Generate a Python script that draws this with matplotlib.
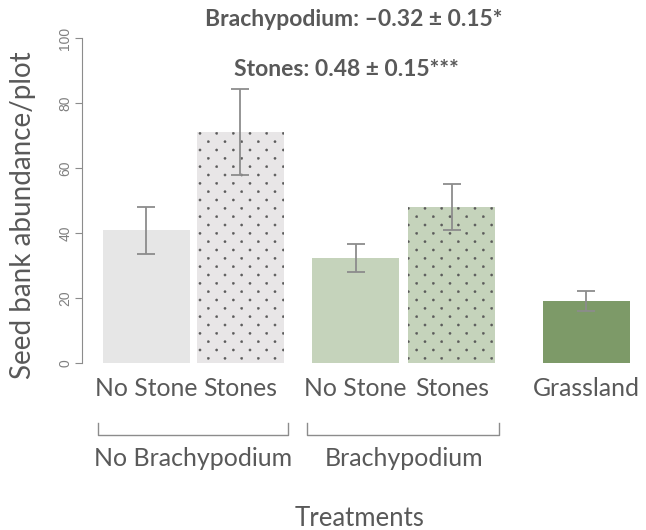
import numpy as np
import matplotlib
matplotlib.use('Agg')
import matplotlib.pyplot as plt
from matplotlib import hatch as mhatch
from matplotlib.path import Path

# values
labels = ['No Stone', 'Stones', 'No Stone', 'Stones', 'Grassland']
means = [40.8, 71.0, 32.3, 48.0, 19.1]
errs = [7.2, 13.2, 4.3, 7.2, 3.0]
groups = ['No Brachypodium', 'Brachypodium']
annot = ['Brachypodium: \u20130.32 \u00b1 0.15*', 'Stones: 0.48 \u00b1 0.15***']

pos = [0, 1.07, 2.38, 3.47, 5.0]
cols = ['#e6e6e6', '#e8e6e7', '#c5d3bb', '#c5d3bb', '#7d9a68']
hatches = [None, '.', None, '.', None]
txt = '#595959'
grey = '#8c8c8c'
font = 'Lato'


# staggered small dots: rows twice as close as the dots in a row
class StaggerDots(mhatch.HatchPatternBase):
    radius = 0.011

    def __init__(self, hatch, density):
        self.n = hatch.count('.') * density
        circ = Path.unit_circle()
        self.sv = circ.vertices
        self.sc = circ.codes
        n = self.n
        nshapes = (n + 1) * (n + 1) + n * n if n else 0
        self.num_vertices = nshapes * len(self.sv)

    def set_vertices_and_codes(self, vertices, codes):
        n = self.n
        shape = self.sv * self.radius
        vp, cp = [], []
        for r in range(2 * n + 1):
            if r % 2 == 0:
                xs = np.linspace(0, 1, n + 1)
            else:
                xs = (np.arange(n) + 0.5) / n
            for x in xs:
                vp.append(shape + [x, r / (2 * n)])
                cp.append(self.sc)
        np.concatenate(vp, out=vertices)
        np.concatenate(cp, out=codes)


mhatch._hatch_types[:] = [t for t in mhatch._hatch_types
                          if t is not mhatch.SmallFilledCircles] + [StaggerDots]
plt.rcParams['hatch.linewidth'] = 0.3

fig = plt.figure(figsize=(6.46, 5.30), dpi=100)
ax = fig.add_axes([82/646, (530-363)/530, (640-82)/646, 325/530])

for x, m, e, c, h in zip(pos, means, errs, cols, hatches):
    ax.bar(x, m, width=0.99, color=c, hatch=h, edgecolor='#5a5a5a' if h else c, linewidth=0)
    ax.errorbar(x, m, yerr=e, color=grey, capsize=6.5, elinewidth=1.3, capthick=1.3, fmt='none')

ax.set_xlim(-0.73, 5.61)
ax.set_ylim(0, 100)
for s in ['top', 'right', 'bottom']:
    ax.spines[s].set_visible(False)
ax.spines['left'].set_color(grey)
ax.set_yticks([0, 20, 40, 60, 80, 100])
ax.tick_params(axis='y', colors=grey, length=5, labelsize=10, labelcolor='#808080', pad=2)
for t in ax.get_yticklabels():
    t.set_rotation(90)
    t.set_va('center')
    t.set_family('Liberation Sans')
ax.set_xticks([])

fig.text(23/646, 1 - 215/530, 'Seed bank abundance/plot', rotation=90, ha='center',
         va='center', fontsize=20, color=txt, family=font)

# category labels
for x, l in zip(pos, labels):
    ax.text(x, -8, l, ha='center', va='center', fontsize=17.8, color=txt, family=font,
            clip_on=False)

# brackets under the two Brachypodium groups
pairs = [(pos[0], pos[1]), (pos[2], pos[3])]
for (a, b), g in zip(pairs, groups):
    x0, x1 = a - 0.55, b + 0.54
    ax.plot([x0, x0, x1, x1], [-18.5, -22.2, -22.2, -18.5], color=grey, lw=1, clip_on=False)
    ax.text((a + b) / 2, -29.5, g, ha='center', va='center', fontsize=18, color=txt,
            family=font, clip_on=False)

fig.text(360/646, 1 - 518/530, 'Treatments', ha='center', va='center', fontsize=18.5,
         color=txt, family=font)

fig.text(354/646, 1 - 20/530, annot[0], ha='center', va='center', fontsize=16.5,
         color=txt, family=font, fontweight='bold')
fig.text(346/646, 1 - 70/530, annot[1], ha='center', va='center', fontsize=16.5,
         color=txt, family=font, fontweight='bold')

fig.savefig('out.png', dpi=100)
